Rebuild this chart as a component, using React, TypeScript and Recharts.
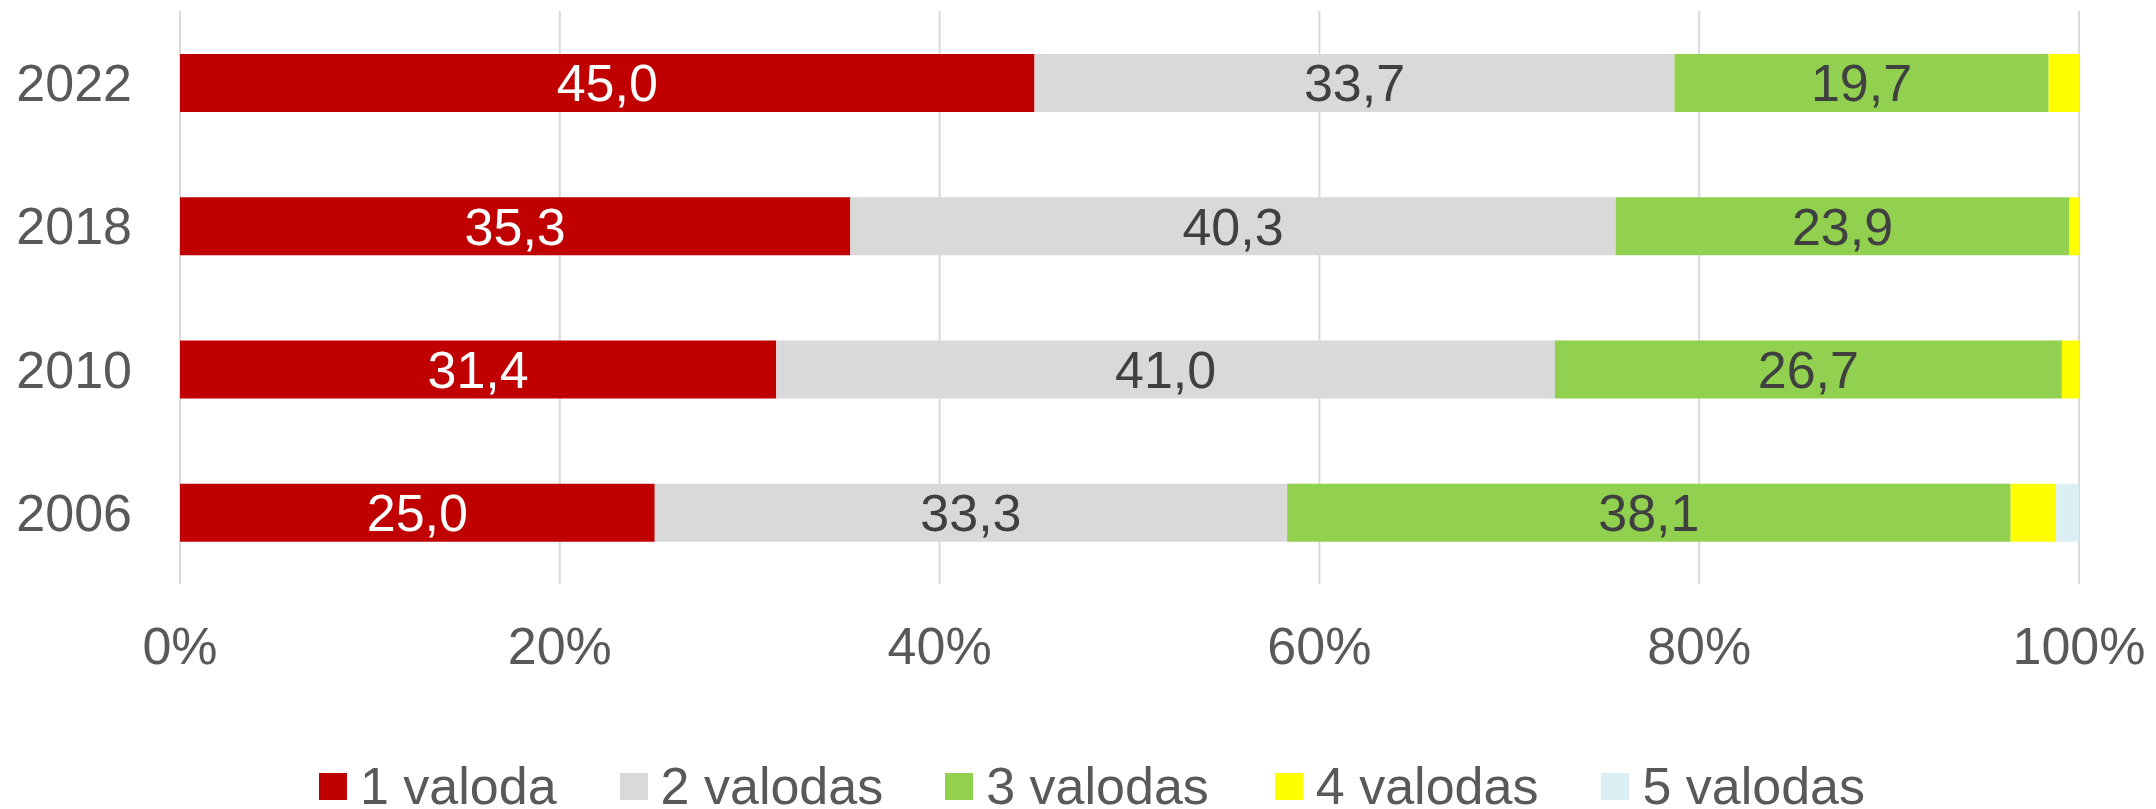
import React from "react";
import { BarChart, Bar, XAxis, YAxis, CartesianGrid, Legend, LabelList } from "recharts";

const years = ["2022", "2018", "2010", "2006"];
const oneLang = [45.0, 35.3, 31.4, 25.0];
const twoLang = [33.7, 40.3, 41.0, 33.3];
const threeLang = [19.7, 23.9, 26.7, 38.1];
const fourLang = [1.6, 0.5, 0.9, 2.4];
const fiveLang = [0, 0, 0, 1.2];
const xTicks = [0, 20, 40, 60, 80, 100];

const seriesNames = ["1 valoda", "2 valodas", "3 valodas", "4 valodas", "5 valodas"];
const seriesColors = ["#C00000", "#D9D9D9", "#92D050", "#FFFF00", "#DAEEF3"];
const seriesKeys = ["s1", "s2", "s3", "s4", "s5"];
const labelColors = ["#FFFFFF", "#404040", "#404040", null, null];
const legendGaps = [63, 62, 66, 63, 0];

const data = years.map((y, i) => ({
  year: y,
  s1: oneLang[i],
  s2: twoLang[i],
  s3: threeLang[i],
  s4: fourLang[i],
  s5: fiveLang[i],
}));

const FONT = "'Liberation Sans', Arial, sans-serif";
const TEXT = "#595959";

const fmt = (v: any) => (typeof v === "number" ? v.toFixed(1).replace(".", ",") : v);

const LegendContent = () => (
  <div style={{ height: 60, width: "100%", display: "flex", justifyContent: "flex-start" }}>
    <div style={{ display: "flex", marginTop: 11, marginLeft: 319, height: 52, alignItems: "center" }}>
      {seriesNames.map((n, i) => (
        <div key={n} style={{ display: "flex", alignItems: "center", marginRight: legendGaps[i] }}>
          <div style={{ width: 28, height: 27, background: seriesColors[i], marginRight: 13 }} />
          <span style={{ fontFamily: FONT, fontSize: 52, color: TEXT, lineHeight: "52px", whiteSpace: "nowrap" }}>{n}</span>
        </div>
      ))}
    </div>
  </div>
);

export default function App() {
  return (
    <div style={{ position: "absolute", left: 0, top: 0, width: 2156, height: 809, background: "#fff" }}>
      <BarChart
        width={2156}
        height={809}
        data={data}
        layout="vertical"
        margin={{ top: 11, right: 77, left: 0, bottom: 0 }}
        barSize={58}
      >
        <CartesianGrid horizontal={false} vertical={true} stroke="#D9D9D9" strokeWidth={2} />
        <XAxis
          type="number"
          domain={[0, 100]}
          allowDataOverflow
          ticks={xTicks}
          interval={0}
          tickFormatter={(v: number) => `${v}%`}
          axisLine={false}
          tickLine={false}
          tickSize={0}
          tickMargin={43}
          height={165}
          tick={{ fill: TEXT, fontSize: 52, fontFamily: FONT }}
        />
        <YAxis
          type="category"
          dataKey="year"
          width={180}
          axisLine={false}
          tickLine={false}
          tickSize={0}
          tickMargin={48}
          tick={{ fill: TEXT, fontSize: 52, fontFamily: FONT }}
        />
        <Legend verticalAlign="bottom" height={60} content={<LegendContent />} />
        {seriesKeys.map((k, i) => (
          <Bar key={k} dataKey={k} name={seriesNames[i]} stackId="a" fill={seriesColors[i]} isAnimationActive={false}>
            {labelColors[i] && (
              <LabelList
                dataKey={k}
                position="center"
                formatter={fmt}
                fill={labelColors[i] as string}
                style={{ fontSize: 52, fontFamily: FONT }}
              />
            )}
          </Bar>
        ))}
      </BarChart>
    </div>
  );
}
